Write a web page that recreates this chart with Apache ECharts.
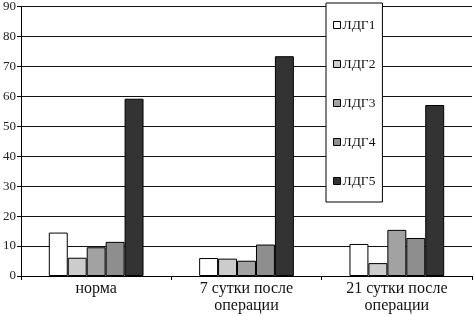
<!DOCTYPE html>
<html>
<head>
<meta charset="utf-8">
<script src="https://cdn.jsdelivr.net/npm/echarts@6/dist/echarts.min.js"></script>
<style>
  html, body { margin: 0; padding: 0; background: #fff; }
  #chart { width: 474px; height: 316px; }
</style>
</head>
<body>
<div id="chart"></div>
<script>
const categories = ['норма', '7 сутки после\nоперации', '21 сутки после\nоперации'];
const seriesNames = ['ЛДГ1', 'ЛДГ2', 'ЛДГ3', 'ЛДГ4', 'ЛДГ5'];
const ldg1 = [14.5, 6.0, 10.7];
const ldg2 = [6.1, 5.8, 4.3];
const ldg3 = [9.6, 5.1, 15.4];
const ldg4 = [11.4, 10.5, 12.7];
const ldg5 = [59.2, 73.4, 57.1];
const fills = ['#ffffff', '#cccccc', '#a2a2a2', '#8e8e8e', '#333333'];

const chart = echarts.init(document.getElementById('chart'));
const font = '"Liberation Serif", "DejaVu Serif", serif';

const series = [ldg1, ldg2, ldg3, ldg4, ldg5].map((vals, i) => ({
  name: seriesNames[i],
  type: 'bar',
  data: vals,
  barGap: 0,
  barCategoryGap: '37%',
  itemStyle: { color: fills[i], borderColor: '#000', borderWidth: 1 },
}));

chart.setOption({
  animation: false,
  textStyle: { fontFamily: font },
  grid: { left: 20, right: 2, top: 5, bottom: 40 },
  legend: {
    orient: 'vertical',
    left: 326,
    top: 3,
    width: 48,
    padding: [15, 7, 14, 7],
    itemGap: 25,
    itemWidth: 7,
    itemHeight: 7,
    backgroundColor: '#fff',
    borderColor: '#000',
    borderWidth: 1,
    textStyle: { fontFamily: font, fontSize: 13.5, color: '#111', padding: [0, 6, 0, -3] },
    data: seriesNames.map(n => ({ name: n, icon: 'rect', itemStyle: { borderColor: '#000', borderWidth: 1 } })),
  },
  xAxis: {
    type: 'category',
    data: categories,
    axisLine: { lineStyle: { color: '#000' } },
    axisTick: { show: true, length: 4, lineStyle: { color: '#000' } },
    axisLabel: { color: '#111', fontSize: 16, fontFamily: font, lineHeight: 17, margin: 4 },
  },
  yAxis: {
    type: 'value',
    min: 0,
    max: 90,
    interval: 10,
    axisLine: { show: true, lineStyle: { color: '#000' } },
    axisTick: { show: true, inside: false, length: 4, lineStyle: { color: '#000' } },
    axisLabel: { color: '#222', fontSize: 13, fontFamily: font, margin: 5 },
    splitLine: { lineStyle: { color: '#111', width: 1 } },
  },
  series: series,
});
</script>
</body>
</html>
